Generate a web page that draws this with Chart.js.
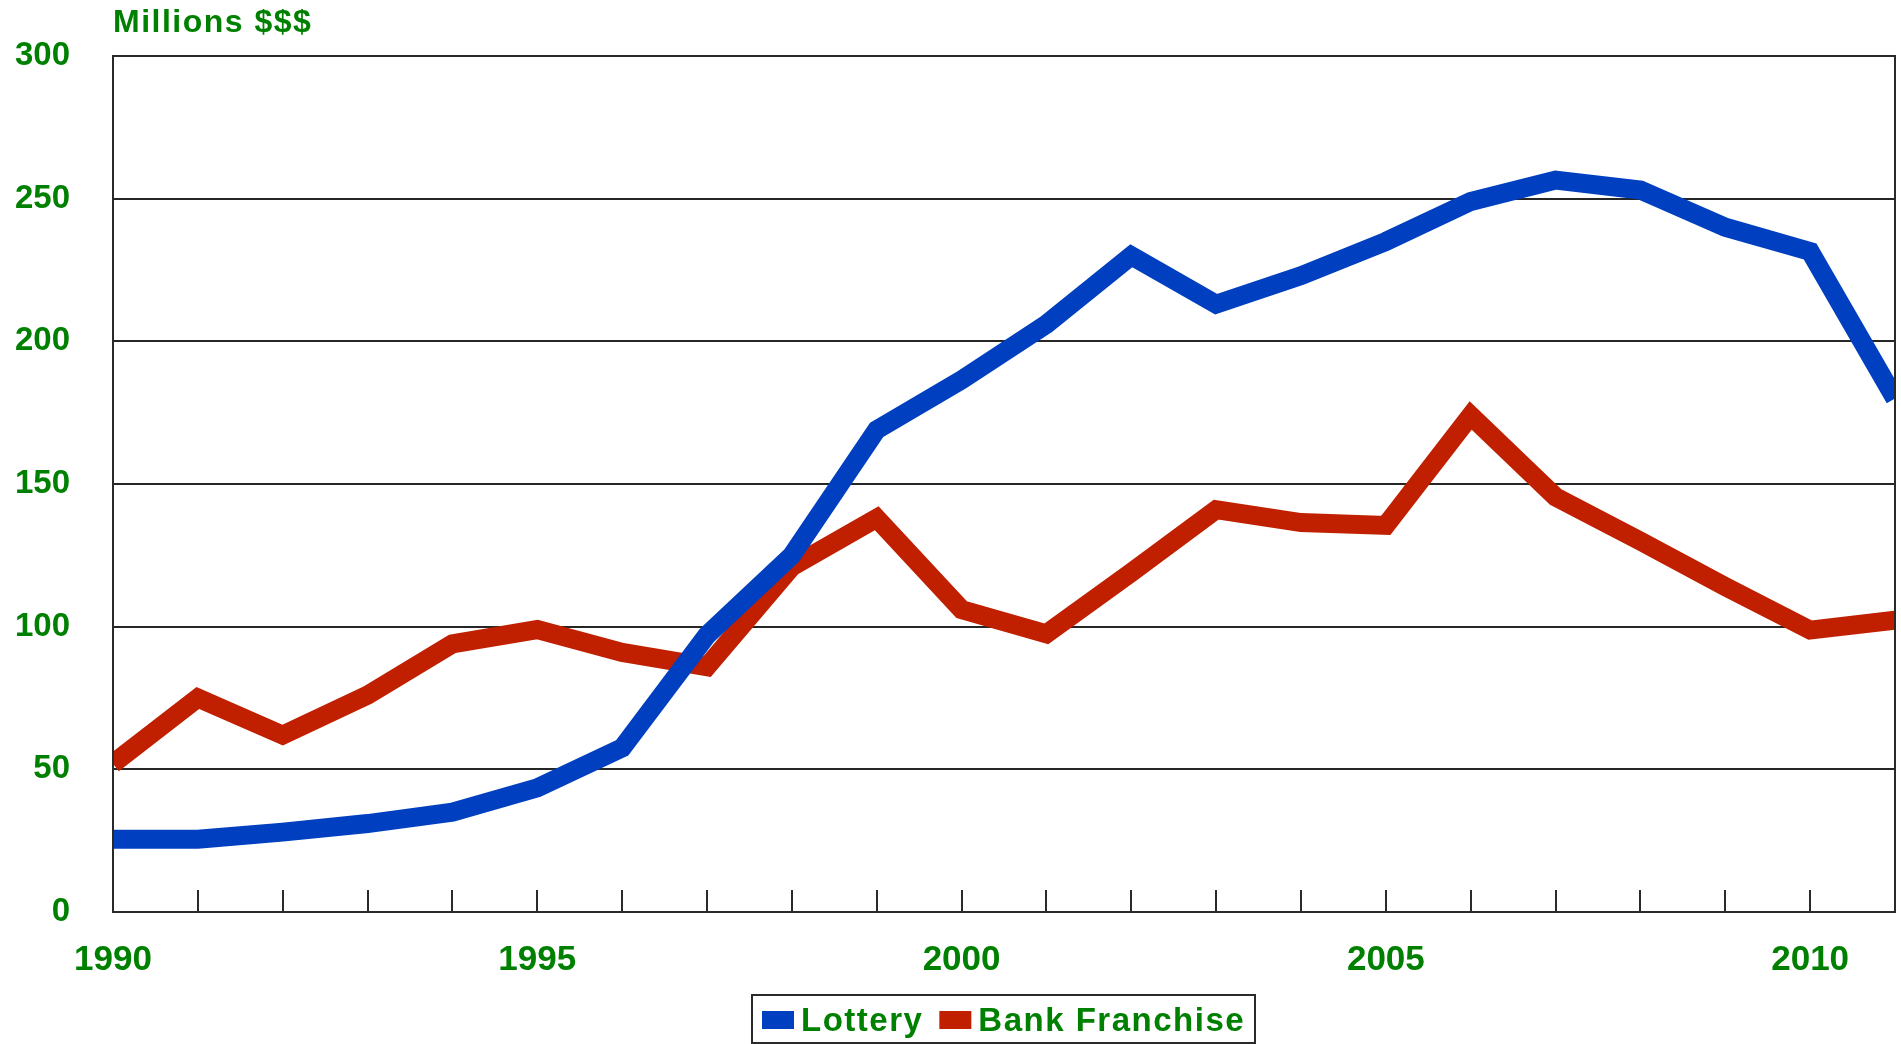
<!DOCTYPE html>
<html>
<head>
<meta charset="utf-8">
<title>Lottery vs Bank Franchise</title>
<script src="https://cdn.jsdelivr.net/npm/chart.js@4.4.1/dist/chart.umd.min.js"></script>
<style>
  html, body { margin: 0; padding: 0; background: #fff; }
  #wrap { width: 1901px; height: 1044px; }
</style>
</head>
<body>
<div id="wrap"><canvas id="chart" width="1901" height="1044"></canvas></div>
<script>
  // values, millions of dollars per year
  var years = [1990, 1991, 1992, 1993, 1994, 1995, 1996, 1997, 1998, 1999, 2000,
               2001, 2002, 2003, 2004, 2005, 2006, 2007, 2008, 2009, 2010, 2011];
  var lottery = [25.5, 25.5, 28, 31, 35, 43.5, 57.5, 97, 125, 169, 186.5,
                 206, 230, 213, 223, 235, 249, 256.5, 253, 240, 231.5, 180];
  var bankFranchise = [52, 75, 62, 76, 94, 99, 91, 86, 121, 138, 106,
                       97.5, 119, 141, 136.5, 135.5, 174, 145.5, 130, 114, 98.8, 102.3];
  var yTicks = [0, 50, 100, 150, 200, 250, 300];

  var GREEN = '#008000';
  var FRAME = '#2a2a2a';
  var FONT = "'Liberation Sans', Arial, sans-serif";

  // frame round the plot plus the short year ticks that point inwards
  var framePlugin = {
    id: 'frame',
    afterDraw: function (chart) {
      var ctx = chart.ctx, a = chart.chartArea, x = chart.scales.x;
      ctx.save();
      ctx.strokeStyle = FRAME;
      ctx.lineWidth = 2;
      ctx.beginPath();
      for (var i = 1; i < years.length - 1; i++) {
        var px = Math.round(x.getPixelForValue(i));
        ctx.moveTo(px, a.bottom);
        ctx.lineTo(px, a.bottom - 22);
      }
      ctx.stroke();
      ctx.strokeRect(Math.round(a.left), Math.round(a.top), Math.round(a.right - a.left), Math.round(a.bottom - a.top));

      // unit label above the axis
      ctx.letterSpacing = '1.5px';
      ctx.fillStyle = GREEN;
      ctx.font = 'bold 32px ' + FONT;
      ctx.textAlign = 'left';
      ctx.textBaseline = 'alphabetic';
      ctx.fillText('Millions $$$', a.left, 32);
      ctx.restore();
    }
  };

  // boxed legend under the axis, centred on the plot
  var boxLegend = {
    id: 'boxLegend',
    afterDraw: function (chart) {
      var ctx = chart.ctx, a = chart.chartArea;
      var sets = chart.data.datasets;
      ctx.save();
      ctx.letterSpacing = '1.5px';
      ctx.font = 'bold 33px ' + FONT;
      var sw = 32, sh = 18, gapText = 7, gapItem = 16, padL = 10, padR = 10;
      var widths = sets.map(function (d) { return ctx.measureText(d.label).width; });
      var total = padL + padR;
      widths.forEach(function (w, i) { total += sw + gapText + w + (i ? gapItem : 0); });
      var left = Math.round((a.left + a.right) / 2 - total / 2);
      var top = 995, bottom = 1043;

      ctx.strokeStyle = FRAME;
      ctx.lineWidth = 2;
      ctx.strokeRect(left, top, Math.round(total), bottom - top);

      var cx = left + padL;
      sets.forEach(function (d, i) {
        if (i) cx += gapItem;
        ctx.fillStyle = d.borderColor;
        ctx.fillRect(cx, 1011, sw, sh);
        cx += sw + gapText;
        ctx.fillStyle = GREEN;
        ctx.textAlign = 'left';
        ctx.textBaseline = 'alphabetic';
        ctx.fillText(d.label, cx, 1031);
        cx += widths[i];
      });
      ctx.restore();
    }
  };

  new Chart(document.getElementById('chart'), {
    type: 'line',
    data: {
      labels: years,
      datasets: [
        { label: 'Lottery', data: lottery, borderColor: '#0040C0', backgroundColor: '#0040C0' },
        { label: 'Bank Franchise', data: bankFranchise, borderColor: '#C02000', backgroundColor: '#C02000' }
      ]
    },
    options: {
      responsive: false,
      animation: false,
      devicePixelRatio: 1,
      layout: { padding: { top: 56, right: 6, bottom: 0, left: 0 } },
      elements: {
        line: { borderWidth: 19, tension: 0, borderJoinStyle: 'miter', borderCapStyle: 'butt', fill: false },
        point: { radius: 0, hoverRadius: 0 }
      },
      datasets: { line: { clip: 0 } },
      plugins: {
        legend: { display: false },
        title: { display: false },
        tooltip: { enabled: false }
      },
      scales: {
        x: {
          type: 'category',
          offset: false,
          afterFit: function (s) { s.height = 132; s.paddingLeft = 0; s.paddingRight = 0; },
          grid: { display: false, drawTicks: false },
          border: { display: true, color: FRAME, width: 2 },
          ticks: {
            autoSkip: false,
            maxRotation: 0,
            padding: 27,
            color: GREEN,
            font: { family: FONT, size: 35, weight: 'bold' },
            callback: function (v, i) { return years[i] % 5 === 0 ? String(years[i]) : ''; }
          }
        },
        y: {
          min: yTicks[0],
          max: yTicks[yTicks.length - 1],
          afterFit: function (s) { s.width = 113; s.paddingTop = 0; s.paddingBottom = 0; },
          afterBuildTicks: function (s) { s.ticks = yTicks.map(function (v) { return { value: v }; }); },
          grid: { color: '#262626', lineWidth: 2, drawTicks: false },
          border: { display: true, color: FRAME, width: 2 },
          ticks: {
            padding: 43,
            color: GREEN,
            font: { family: FONT, size: 33, weight: 'bold' },
            callback: function (v) { return String(v); }
          }
        }
      }
    },
    plugins: [framePlugin, boxLegend]
  });
</script>
</body>
</html>
